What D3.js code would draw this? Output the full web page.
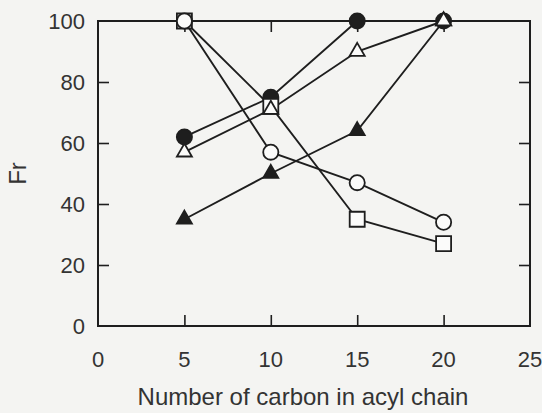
<!DOCTYPE html>
<html>
<head>
<meta charset="utf-8">
<script src="https://cdn.jsdelivr.net/npm/d3@7"></script>
<style>
  html, body { margin: 0; padding: 0; background: #f4f4f2; }
  svg { display: block; }
  text { font-family: "Liberation Sans", Arial, Helvetica, sans-serif; fill: #333; }
</style>
</head>
<body>
<svg id="chart" width="542" height="413"></svg>
<script>
// Chain length (number of carbons) on the x axis
const carbons = [5, 10, 15, 20];

// Fr values for each series
const filledCircle   = [62, 75, 100, 100];
const filledTriangle = [35, 50, 64, 100];
const openSquare     = [100, 72, 35, 27];
const openCircle     = [100, 57, 47, 34];
const openTriangle   = [57, 71, 90, 100];

const xTicks = [0, 5, 10, 15, 20, 25];
const yTicks = [0, 20, 40, 60, 80, 100];

const xTitle = "Number of carbon in acyl chain";
const yTitle = "Fr";

const svg = d3.select("#chart");
const margin = { left: 98, right: 12, top: 21, bottom: 87 };
const W = 542, H = 413;
const x = d3.scaleLinear().domain([0, 25]).range([margin.left, W - margin.right]);
const y = d3.scaleLinear().domain([0, 100]).range([H - margin.bottom, margin.top]);

const ink = "#1e1e1e";
const tickLen = 11;

// Frame
svg.append("rect")
  .attr("x", x(0)).attr("y", y(100))
  .attr("width", x(25) - x(0)).attr("height", y(0) - y(100))
  .attr("fill", "none").attr("stroke", ink).attr("stroke-width", 2);

// Mirrored inward ticks on all four sides
const inner = (t, d) => t !== d[0] && t !== d[1];
const axX = d3.axisBottom(x).tickValues(xTicks.filter(t => inner(t, [0, 25]))).tickSize(-tickLen).tickFormat("");
const axXTop = d3.axisTop(x).tickValues(xTicks.filter(t => inner(t, [0, 25]))).tickSize(-tickLen).tickFormat("");
const axY = d3.axisLeft(y).tickValues(yTicks.filter(t => inner(t, [0, 100]))).tickSize(-tickLen).tickFormat("");
const axYR = d3.axisRight(y).tickValues(yTicks.filter(t => inner(t, [0, 100]))).tickSize(-tickLen).tickFormat("");

[[axX, `translate(0,${y(0)})`], [axXTop, `translate(0,${y(100)})`],
 [axY, `translate(${x(0)},0)`], [axYR, `translate(${x(25)},0)`]].forEach(([ax, tr]) => {
  const g = svg.append("g").attr("transform", tr).call(ax);
  g.select(".domain").remove();
  g.selectAll(".tick line").attr("stroke", ink).attr("stroke-width", 1.6);
});

// Tick labels
svg.append("g").selectAll("text").data(xTicks).join("text")
  .attr("x", d => x(d)).attr("y", y(0) + 41)
  .attr("text-anchor", "middle").attr("font-size", 22)
  .text(d => d);

svg.append("g").selectAll("text").data(yTicks).join("text")
  .attr("x", x(0) - 13).attr("y", d => y(d) + 8)
  .attr("text-anchor", "end").attr("font-size", 22)
  .text(d => d);

// Axis titles
svg.append("text")
  .attr("x", (x(0) + x(25)) / 2 - 11).attr("y", 405)
  .attr("text-anchor", "middle").attr("font-size", 24)
  .text(xTitle);

svg.append("text")
  .attr("transform", `translate(26,${(y(0) + y(100)) / 2}) rotate(-90)`)
  .attr("text-anchor", "middle").attr("font-size", 24)
  .text(yTitle);

const line = d3.line().x(d => x(d[0])).y(d => y(d[1]));

const series = [
  { values: filledCircle,   shape: "circle",   fill: ink },
  { values: filledTriangle, shape: "triangle", fill: ink },
  { values: openSquare,     shape: "square",   fill: "#fbfbfa" },
  { values: openCircle,     shape: "circle",   fill: "#fbfbfa" },
  { values: openTriangle,   shape: "triangle", fill: "#fbfbfa" }
];

// Connecting lines first, markers on top
series.forEach(s => {
  const pts = carbons.map((c, i) => [c, s.values[i]]);
  svg.append("path").datum(pts)
    .attr("d", line).attr("fill", "none")
    .attr("stroke", ink).attr("stroke-width", 1.9);
});

const shapes = {
  circle: d3.symbol(d3.symbolCircle, Math.PI * 7.6 * 7.6),
  square: d3.symbol(d3.symbolSquare, 15 * 15),
  triangle: d3.symbol(d3.symbolTriangle, 0.433 * 15 * 15)
};

series.forEach(s => {
  const pts = carbons.map((c, i) => [c, s.values[i]]);
  svg.append("g").selectAll("path").data(pts).join("path")
    .attr("transform", d => `translate(${x(d[0])},${y(d[1])})`)
    .attr("d", shapes[s.shape]())
    .attr("fill", s.fill).attr("stroke", ink).attr("stroke-width", 1.8);
});
</script>
</body>
</html>
